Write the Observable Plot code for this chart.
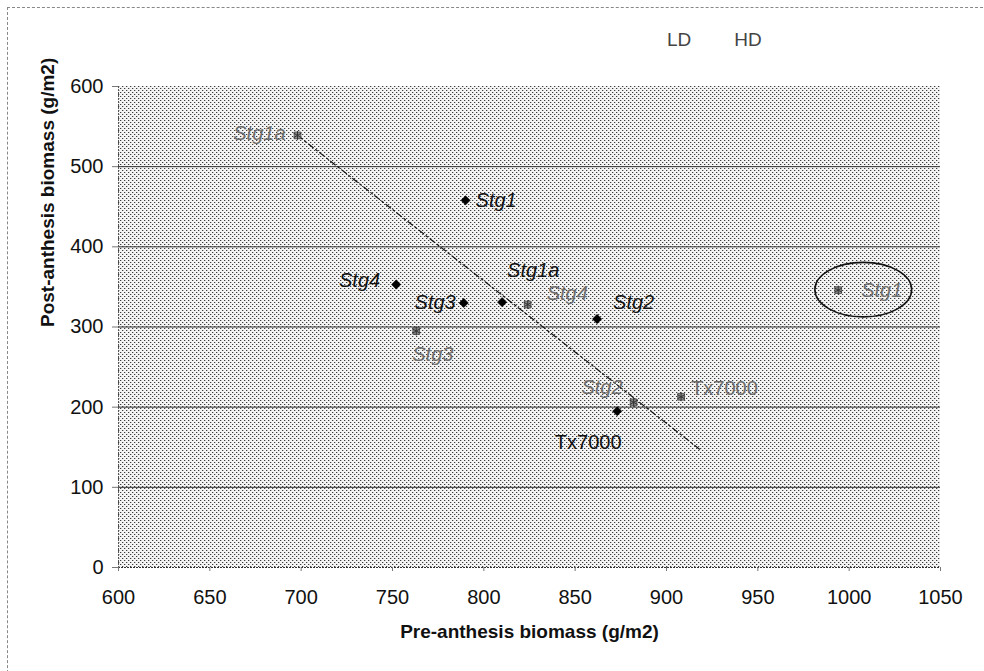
<!DOCTYPE html>
<html><head><meta charset="utf-8">
<script src="https://cdn.jsdelivr.net/npm/d3@7"></script>
<script src="https://cdn.jsdelivr.net/npm/@observablehq/plot@0.6"></script>
<style>
body{margin:0;background:#fff;font-family:"Liberation Sans",Arial,sans-serif;overflow:hidden;}
#wrap{position:relative;width:984px;height:671px;overflow:hidden;}
#border{position:absolute;left:7px;top:7px;width:1000px;height:700px;border-top:1px dashed #888;border-left:1px dashed #888;}
#legend{position:absolute;top:29px;left:667px;font-size:19px;color:#444;white-space:nowrap;}
#chart{position:absolute;left:0;top:0;}
</style></head><body>
<div id="wrap"><div id="border"></div><div id="legend"><span>LD</span><span style="margin-left:43px">HD</span></div><div id="chart"></div></div>
<script>
// HD series (black diamonds)
const hdNames = ["Stg1", "Stg4", "Stg3", "Stg1a", "Stg2", "Tx7000"];
const hdPre   = [790, 752, 789, 810, 862, 873];
const hdPost  = [458, 353, 330, 331, 310, 195];
// LD series (grey markers)
const ldNames = ["Stg1a", "Stg4", "Stg3", "Stg2", "Tx7000", "Stg1"];
const ldPre   = [698, 824, 763, 882, 908, 994];
const ldPost  = [539, 328, 295, 206, 213, 346];
// dashed trend line end points
const trendPre  = [698, 919];
const trendPost = [539, 146];
// highlighted point ellipse (data units)
const ellipseCenter = [1008, 346];
const ellipseRadius = [26.5, 34];
// axes
const xTicks = [600, 650, 700, 750, 800, 850, 900, 950, 1000, 1050];
const yTicks = [0, 100, 200, 300, 400, 500, 600];
const xTitle = "Pre-anthesis biomass (g/m2)";
const yTitle = "Post-anthesis biomass (g/m2)";

const hd = hdNames.map((n, i) => ({name: n, x: hdPre[i], y: hdPost[i]}));
const ld = ldNames.map((n, i) => ({name: n, x: ldPre[i], y: ldPost[i]}));
const trend = trendPre.map((x, i) => ({x, y: trendPost[i]}));

// label placement (pixel offsets, anchor)
const hdLabelPos = {Stg1:[10,0,"start"], Stg4:[-16,-4,"end"], Stg3:[-8,0,"end"], Stg1a:[5,-32,"start"], Stg2:[16,-16,"start"], Tx7000:[-29,31,"middle"]};
const ldLabelPos = {Stg1a:[-12,-2,"end"], Stg4:[19,-11,"start"], Stg3:[-4,24,"start"], Stg2:[-11,-15,"end"], Tx7000:[10,-8,"start"], Stg1:[23,0,"start"]};

function labelMarks(rows, pos, color) {
  return rows.map(r => {
    const [dx, dy, anchor] = pos[r.name];
    return Plot.text([r], {x: "x", y: "y", text: "name", dx, dy, textAnchor: anchor,
      fill: color, fontSize: 20, fontStyle: r.name === "Tx7000" ? "normal" : "italic"});
  });
}

const background = (index, scales, values, dim) => {
  const g = d3.create("svg:g");
  const p = g.append("defs").append("pattern").attr("id", "stipple")
    .attr("width", 4).attr("height", 4).attr("patternUnits", "userSpaceOnUse");
  p.append("rect").attr("width", 4).attr("height", 4).attr("fill", "#f4f4f4");
  [[0, 0, "#3c3c3c"], [1, 0, "#c0c0c0"], [2, 2, "#3c3c3c"], [3, 2, "#c0c0c0"]].forEach(([px, py, c]) =>
    p.append("rect").attr("x", px).attr("y", py).attr("width", 1).attr("height", 1).attr("fill", c));
  g.append("rect").attr("x", dim.marginLeft).attr("y", dim.marginTop)
    .attr("width", dim.width - dim.marginLeft - dim.marginRight)
    .attr("height", dim.height - dim.marginTop - dim.marginBottom)
    .attr("fill", "url(#stipple)").attr("shape-rendering", "crispEdges");
  return g.node();
};

const ellipse = (index, {x, y}) => {
  const cx = x(ellipseCenter[0]), cy = y(ellipseCenter[1]);
  const rx = Math.abs(x(ellipseCenter[0] + ellipseRadius[0]) - cx);
  const ry = Math.abs(y(ellipseCenter[1] + ellipseRadius[1]) - cy);
  return d3.create("svg:ellipse").attr("cx", cx).attr("cy", cy).attr("rx", rx).attr("ry", ry)
    .attr("fill", "none").attr("stroke", "#111").attr("stroke-width", 1.6).node();
};

const chart = Plot.plot({
  width: 984, height: 671,
  marginLeft: 118, marginRight: 44, marginTop: 86, marginBottom: 104,
  style: {fontFamily: "'Liberation Sans', Arial, sans-serif", fontSize: "20px", color: "#111", background: "transparent", overflow: "visible"},
  x: {domain: [600, 1050]},
  y: {domain: [0, 600]},
  marks: [
    background,
    Plot.ruleY(yTicks.filter(v => v > 0 && v < 600), {stroke: "#333", strokeWidth: 1, strokeOpacity: 1}),
    Plot.ruleX([600], {stroke: "#555", strokeDasharray: "2,1"}),
    Plot.ruleY([0], {stroke: "#333", strokeDasharray: "2,1"}),
    Plot.axisX({ticks: xTicks, tickSize: 4, tickPadding: 18, tickFormat: d => String(d), label: null, stroke: "#777"}),
    Plot.axisY({ticks: yTicks, tickSize: 6, tickPadding: 9, tickFormat: d => String(d), label: null, stroke: "#777"}),
    Plot.text([xTitle], {frameAnchor: "bottom", dy: 70, text: d => d, fontWeight: "bold", fontSize: 19, fill: "#111"}),
    Plot.text([yTitle], {frameAnchor: "left", dx: -71, rotate: -90, text: d => d, fontWeight: "bold", fontSize: 19, fill: "#111"}),
    Plot.line(trend, {x: "x", y: "y", stroke: "#111", strokeWidth: 1.2, strokeDasharray: "6,3,2,3"}),
    Plot.dot(ld, {x: "x", y: "y", symbol: "square", r: 3.8, fill: "#8a8a8a", stroke: "#444", strokeWidth: 0.8}),
    Plot.dot(ld, {x: "x", y: "y", symbol: "asterisk", r: 4.2, stroke: "#333", strokeWidth: 1}),
    Plot.dot(hd, {x: "x", y: "y", symbol: "diamond2", r: 4.2, fill: "#000", stroke: "#000", strokeWidth: 0.5}),
    ...labelMarks(ld, ldLabelPos, "#6e6e6e"),
    ...labelMarks(hd, hdLabelPos, "#111"),
    ellipse
  ]
});
document.getElementById("chart").appendChild(chart);
</script>
</body></html>
